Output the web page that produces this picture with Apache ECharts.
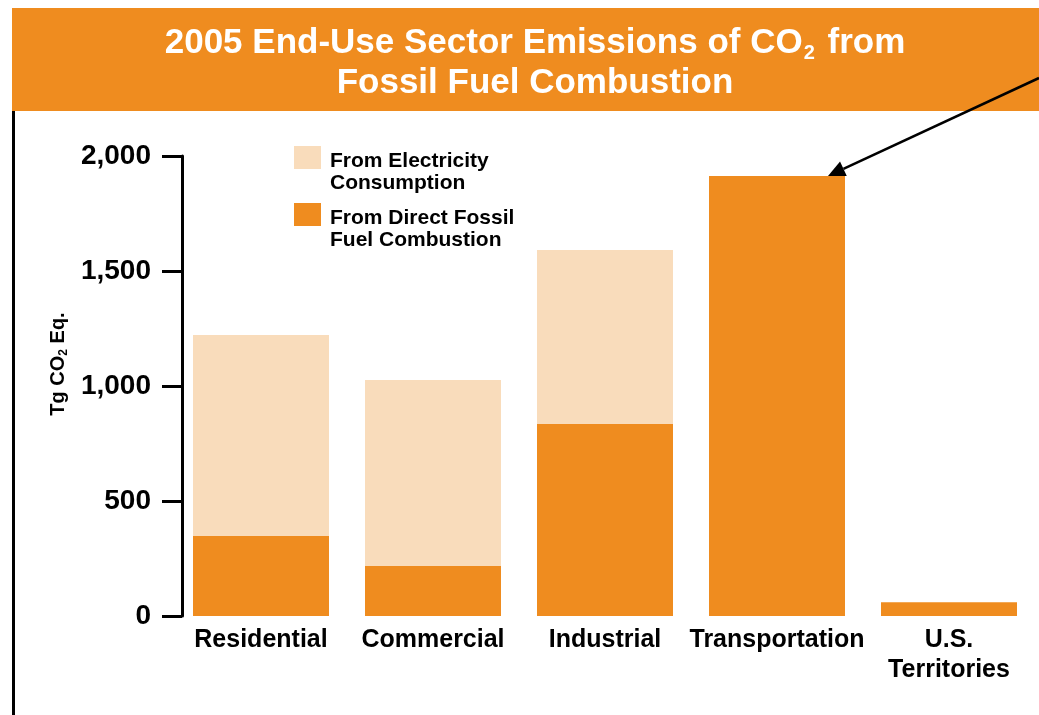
<!DOCTYPE html>
<html><head><meta charset="utf-8">
<script src="https://cdn.jsdelivr.net/npm/echarts@6/dist/echarts.min.js"></script>
<style>html,body{margin:0;padding:0;background:#fff}#c{width:1039px;height:715px}</style>
</head><body><div id="c"></div>
<script>
// ---- data ----
const categories = ['Residential', 'Commercial', 'Industrial', 'Transportation', 'U.S.\nTerritories'];
const fromElectricity = [874, 809, 756, 0, 0];
const fromDirect = [348, 217, 835, 1913, 60];
const yMin = 0, yMax = 2000, yStep = 500;
const seriesNames = ['From Electricity\nConsumption', 'From Direct Fossil\nFuel Combustion'];
const titleText = '2005 End-Use Sector Emissions of CO{sub|2} from\nFossil Fuel Combustion';
const yName = 'Tg CO{s|2} Eq.';

const FONT = '"Liberation Sans", Arial, Helvetica, sans-serif';
const ORANGE = '#EF8C1F';
const LIGHT = '#F9DCBB';
const legendIcon = 'path://M0,0L27,0L27,23L0,23Z M0,52L27,52';

const chart = echarts.init(document.getElementById('c'), null, {renderer: 'canvas'});
chart.setOption({
  animation: false,
  backgroundColor: '#fff',
  title: {
    text: titleText,
    left: 535,
    top: 23,
    textAlign: 'center',
    padding: 0,
    z: 10,
    textStyle: {
      color: '#fff', fontSize: 35, fontWeight: 'bold', fontFamily: FONT, lineHeight: 40,
      rich: {
        sub: {color: '#fff', fontSize: 20, fontWeight: 'bold', fontFamily: FONT, lineHeight: 18, verticalAlign: 'bottom', padding: [0, 3, 0, 1]}
      }
    }
  },
  legend: {
    orient: 'vertical',
    left: 294,
    top: 146,
    padding: 0,
    itemWidth: 27,
    itemHeight: 52,
    itemGap: 5,
    symbolKeepAspect: false,
    selectedMode: false,
    itemStyle: {borderWidth: 0},
    data: [
      {name: seriesNames[0], icon: legendIcon},
      {name: seriesNames[1], icon: legendIcon}
    ],
    textStyle: {fontSize: 21, fontWeight: 'bold', color: '#000', fontFamily: FONT, lineHeight: 22, padding: [0, 0, 0, 4]}
  },
  grid: {left: 175, right: 4, top: 156, bottom: 99, outerBoundsMode: 'none', containLabel: false},
  xAxis: {
    type: 'category',
    data: categories,
    axisLine: {show: false},
    axisTick: {show: false},
    axisLabel: {color: '#000', fontSize: 25, fontWeight: 'bold', fontFamily: FONT, margin: 9, lineHeight: 30, interval: 0}
  },
  yAxis: {
    type: 'value',
    min: yMin, max: yMax, interval: yStep,
    offset: -7,
    splitLine: {show: false},
    axisLine: {show: true, lineStyle: {color: '#000', width: 3}},
    axisTick: {show: true, length: 20, lineStyle: {color: '#000', width: 3}},
    axisLabel: {
      margin: 31, color: '#000', fontSize: 28, fontWeight: 'bold', fontFamily: FONT,
      formatter: v => v.toLocaleString('en-US')
    },
    name: yName,
    nameLocation: 'middle',
    nameRotate: 90,
    nameGap: 112,
    nameTextStyle: {
      color: '#000', fontSize: 20, fontWeight: 'bold', fontFamily: FONT, lineHeight: 24,
      padding: [0, 0, 0, 44],
      rich: {s: {color: '#000', fontSize: 12, fontWeight: 'bold', fontFamily: FONT, lineHeight: 12, verticalAlign: 'bottom'}}
    }
  },
  series: [
    {name: seriesNames[1], type: 'bar', stack: 'total', barWidth: 136, data: fromDirect,
     itemStyle: {color: ORANGE}, emphasis: {disabled: true}},
    {name: seriesNames[0], type: 'bar', stack: 'total', barWidth: 136, data: fromElectricity,
     itemStyle: {color: LIGHT}, emphasis: {disabled: true}}
  ],
  graphic: [
    {type: 'rect', id: 'banner', left: 12, top: 8, z: 0, shape: {width: 1027, height: 103}, style: {fill: ORANGE}},
    {type: 'rect', id: 'leftline', left: 12, top: 111, z: 0, shape: {width: 3, height: 604}, style: {fill: '#000'}}
  ]
});

// Arrow annotation pointing at the Transportation bar top
(function () {
  const ti = 3;
  const barTop = chart.convertToPixel({seriesIndex: 0}, [ti, fromDirect[ti] + fromElectricity[ti]]);
  const tip = [barTop[0] + 51, barTop[1]];
  const start = [1039, 78];
  const dx = tip[0] - start[0], dy = tip[1] - start[1];
  const len = Math.sqrt(dx * dx + dy * dy);
  const ux = dx / len, uy = dy / len;
  const headLen = 17, headHalf = 8;
  const base = [tip[0] - ux * headLen, tip[1] - uy * headLen];
  const px = -uy, py = ux;
  chart.setOption({
    graphic: [
      {type: 'rect', id: 'banner', left: 12, top: 8, z: 0, shape: {width: 1027, height: 103}, style: {fill: ORANGE}},
      {type: 'rect', id: 'leftline', left: 12, top: 111, z: 0, shape: {width: 3, height: 604}, style: {fill: '#000'}},
      {type: 'line', id: 'arrowLine', z: 20, shape: {x1: start[0], y1: start[1], x2: base[0], y2: base[1]},
       style: {stroke: '#000', lineWidth: 2.5}},
      {type: 'polygon', id: 'arrowHead', z: 20,
       shape: {points: [tip, [base[0] + px * headHalf, base[1] + py * headHalf], [base[0] - px * headHalf, base[1] - py * headHalf]]},
       style: {fill: '#000'}}
    ]
  });
})();
</script>
</body></html>
